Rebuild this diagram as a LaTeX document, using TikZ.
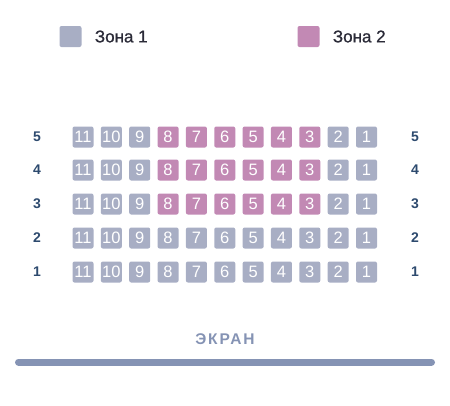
\documentclass[tikz,border=0pt]{standalone}
\usepackage{fontspec}
\setmainfont{Liberation Sans}
\usetikzlibrary{positioning}
\definecolor{zoneone}{HTML}{A8AEC4}
\definecolor{zonetwo}{HTML}{C289B4}
\definecolor{rowblue}{HTML}{2D4A6E}
\definecolor{legdark}{HTML}{2B2B38}
\definecolor{screenblue}{HTML}{8593B4}
\begin{document}
\begin{tikzpicture}[x=1pt, y=-1pt,
        seat/.style={rounded corners=2pt, minimum width=21pt, minimum height=21pt, inner sep=0pt, text=white, font=\fontsize{16.5}{18}\selectfont},
        legbox/.style={rounded corners=2pt, minimum width=22pt, minimum height=21pt, inner sep=0pt},
        legtext/.style={inner sep=0pt, text=legdark, font=\fontsize{17}{19}\selectfont\addfontfeature{FakeBold=1}},
        rowlab/.style={inner sep=0pt, text=rowblue, font=\fontsize{14}{16}\selectfont\bfseries}]
    \useasboundingbox (0,0) rectangle (450,405);
    % legenda
    \node[legbox, fill=zoneone] (k1) at (70.5,36.5) {};
    \node[legtext, right=13pt of k1] (t1) {Зона 1};
    \node[legbox, fill=zonetwo] (k2) at (308.5,36.5) {};
    \node[legtext, right=13pt of k2] (t2) {Зона 2};
    % ryady
    \foreach \r/\y in {5/137,4/170,3/204,2/238,1/272}{
        \node[rowlab] (l\r) at (37,\y) {\r};
        \node[rowlab] (r\r) at (415,\y) {\r};
        \foreach \n in {1,...,11}{
            \pgfmathsetmacro\sx{366.5-(\n-1)*28.35}
            \pgfmathtruncatemacro\z{(\r>2)*(\n>2)*(\n<9)}
            \ifnum\z=1 \def\zc{zonetwo}\else\def\zc{zoneone}\fi
            \node[seat, fill=\zc] (s\r-\n) at (\sx,\y) {\n};
        }
    }
    % ekran
    \node[inner sep=0pt, text=screenblue, font=\fontsize{15.5}{17}\selectfont\bfseries\addfontfeature{LetterSpace=12}] (ekran) at (225,339.5) {ЭКРАН};
    \coordinate (b1) at (18.5,362);
    \coordinate (b2) at (431.5,362);
    \draw[screenblue, line width=7pt, line cap=round] (b1) -- (b2);
\end{tikzpicture}
\end{document}
